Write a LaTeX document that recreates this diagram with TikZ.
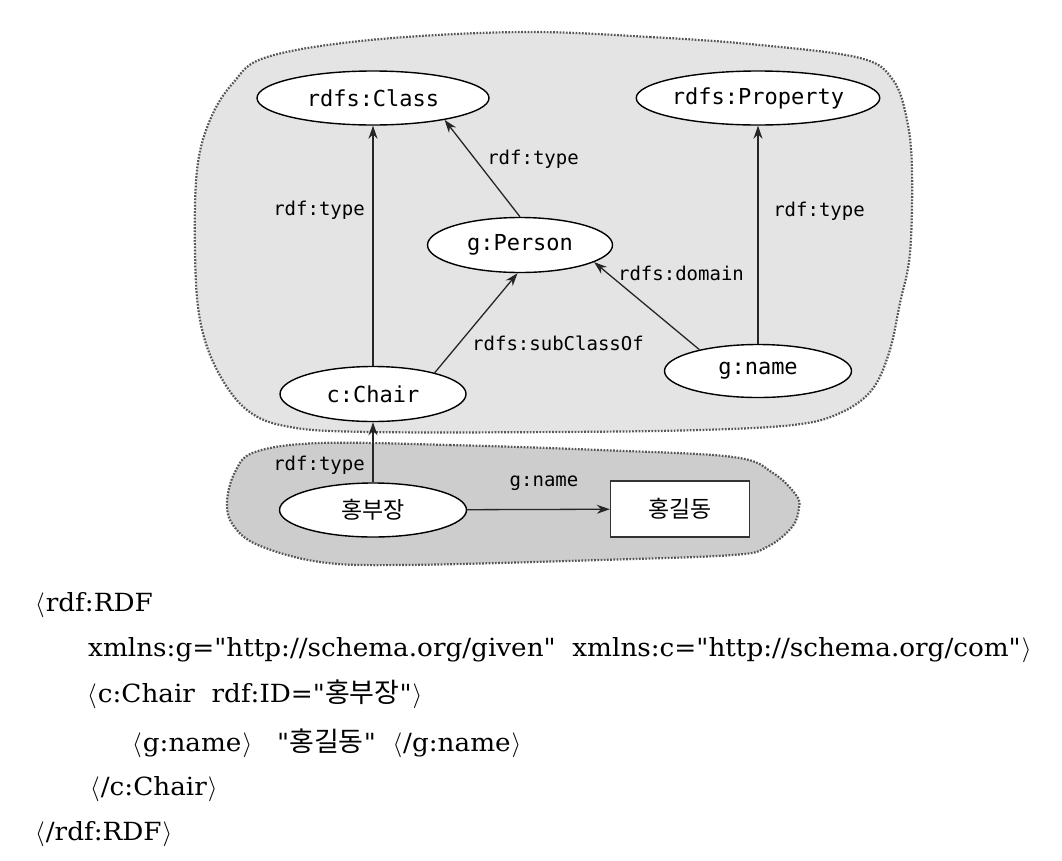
\documentclass[tikz,border=0pt]{standalone}
\usepackage{fontspec}
\setmainfont{DejaVu Serif}[Ligatures=ResetAll]
\newfontfamily\codef{DejaVu Serif}[Ligatures=ResetAll, FakeStretch=1.05]
\newfontfamily\monof{DejaVu Sans Mono}
\newfontfamily\krs{Noto Sans CJK KR}
\usetikzlibrary{shapes.geometric,arrows.meta}
\definecolor{blobA}{HTML}{E4E4E4}
\definecolor{blobB}{HTML}{CDCDCD}
\definecolor{blobline}{HTML}{555555}
\newcommand\dq{\char34\relax}
\newcommand\la{$\langle$\kern1pt}
\newcommand\ra{\kern1pt$\rangle$}
\newcommand\kr[1]{{\krs\fontsize{27}{30}\selectfont #1}}
\tikzset{
  blob/.style={draw=blobline, line width=2.2pt, dash pattern=on 1.7pt off 1.5pt},
  ell/.style={ellipse, draw=black, line width=1.4pt, fill=white, inner sep=0pt,
    font=\monof\fontsize{22}{26}\selectfont},
  krnode/.style={font=\krs\fontsize{23}{27}\selectfont},
  elab/.style={inner sep=0pt, font=\monof\fontsize{19}{22}\selectfont},
  arr/.style={-{Stealth[length=13pt,width=9pt]}, line width=1.3pt, draw=black!85},
  codeline/.style={anchor=base west, inner sep=0pt, font=\codef\fontsize{25}{28}\selectfont}
}
\begin{document}
\begin{tikzpicture}[x=1pt,y=-1pt]
\useasboundingbox (0,0) rectangle (1062,860);
% blobs
\draw[blob, fill=blobA] plot[smooth cycle, tension=0.6] coordinates {
 (520,32) (650,37) (760,45) (860,58) (893,80) (907,120) (912,170) (910,253)
 (900,303) (889,353) (871,391) (838,414) (793,425) (700,430) (560,432) (370,432)
 (290,427) (247,410) (217,370) (200,320) (195,253) (197,170) (210,120) (233,83)
 (267,57) (370,40)};
\draw[blob, fill=blobB] plot[smooth cycle, tension=0.6] coordinates {
 (320,443) (450,445) (600,450) (733,457) (773,473) (796,495) (799,508) (792,527)
 (767,547) (733,555) (600,560) (404,565) (320,562) (258,545) (233,525) (227,502)
 (235,472) (255,452)};
% nodes
\node[ell, minimum width=232pt, minimum height=54pt] (class) at (373,98) {rdfs:Class};
\node[ell, minimum width=231pt, minimum height=54pt] (prop) at (758,98) {rdfs:Property};
\node[ell, minimum width=185pt, minimum height=55pt] (person) at (520,245) {g:Person};
\node[ell, minimum width=186pt, minimum height=55pt] (chair) at (373,394) {c:Chair};
\node[ell, minimum width=187pt, minimum height=53pt] (gname) at (758,371) {g:name};
\node[ell, krnode, minimum width=187pt, minimum height=54pt] (hong) at (373,510) {홍부장};
\node[krnode, draw=black!80, line width=1.4pt, fill=white, minimum width=139pt,
  minimum height=56pt, inner sep=0pt] (gil) at (680,509) {홍길동};
% edges
\draw[arr] (chair) -- (class);
\draw[arr] (person.north) -- (class.-17);
\draw[arr] (chair.19) -- (person.-95);
\draw[arr] (gname.160) -- (person.-13);
\draw[arr] (gname) -- (prop);
\draw[arr] (hong) -- (chair);
\draw[arr] (hong) -- (gil);
% edge labels
\node[elab, anchor=east] (l1) at (365,210) {rdf:type};
\node[elab] (l2) at (533,159) {rdf:type};
\node[elab] (l3) at (558,343) {rdfs:subClassOf};
\node[elab] (l4) at (681,273) {rdfs:domain};
\node[elab] (l5) at (819,211) {rdf:type};
\node[elab, anchor=east] (l6) at (365,465) {rdf:type};
\node[elab] (l7) at (544,483) {g:name};
% code
\node[codeline] (c1) at (35,611) {\la rdf:RDF};
\node[codeline] (c2) at (88,656) {xmlns:g=\dq http://schema.org/given\dq\ \ xmlns:c=\dq http://schema.org/com\dq\ra};
\node[codeline] (c3) at (87,702) {\la c:Chair\ \ rdf:ID=\dq\kr{홍부장}\dq\ra};
\node[codeline] (c4) at (132,751) {\la g:name\ra\ \ \ \dq\kr{홍길동}\dq\ \ \la/g:name\ra};
\node[codeline] (c5) at (90,795) {\la/c:Chair\ra};
\node[codeline] (c6) at (35,840) {\la/rdf:RDF\ra};
\end{tikzpicture}
\end{document}
